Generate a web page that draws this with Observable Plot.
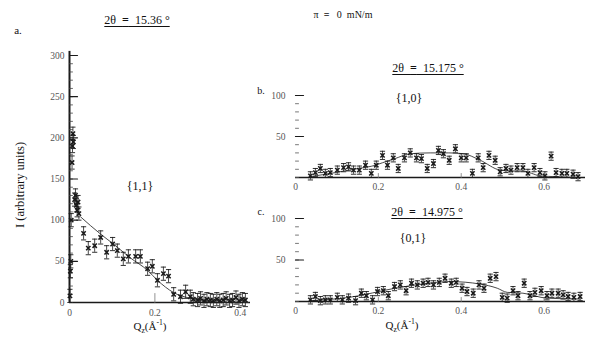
<!DOCTYPE html>
<html><head><meta charset="utf-8">
<script src="https://cdn.jsdelivr.net/npm/d3@7"></script>
<script src="https://cdn.jsdelivr.net/npm/@observablehq/plot@0.6"></script>
<style>
body{margin:0;background:#fff;}
#wrap{position:relative;width:589px;height:341px;overflow:hidden;background:#fff;font-family:"Liberation Serif","DejaVu Serif",serif;color:#111;}
#wrap svg{position:absolute;}
.t{position:absolute;white-space:nowrap;line-height:1;font-family:"Liberation Serif","DejaVu Serif",serif;}
.c{transform:translate(-50%,-50%);}
.u{text-decoration:underline;text-decoration-thickness:1.3px;text-underline-offset:2px;}
sub,sup{font-size:70%;}
</style></head><body><div id="wrap"></div>
<script>
// ---- Panel a : 2θ = 15.36°, {1,1}
const aQ = [0.001,0.002,0.003,0.004,0.006,0.007,0.008,0.009,0.012,0.014,0.016,0.018,0.020,0.022,
  0.033,0.044,0.059,0.073,0.087,0.101,0.112,0.126,0.138,0.155,0.166,0.183,0.194,0.206,0.220,0.232,
  0.244,0.260,0.272,0.283,0.290,0.300,0.307,0.315,0.322,0.330,0.337,0.345,0.352,0.360,0.367,0.375,
  0.382,0.390,0.397,0.405,0.412];
const aI = [8,38,50,100,170,190,205,195,125,130,118,112,122,108,
  84,66,69,79,61,71,63,53,56,56,56,41,44,27,35,32,
  10,7,13,7,4,3,5,2,4,3,2,4,2,3,5,2,
  3,6,2,4,3];
const aErr = 8;
const aFitQ = [0.026,0.073,0.103,0.143,0.183,0.206,0.244,0.283,0.323,0.360,0.420];
const aFitI = [104,83,71,54,39,27,12,5,1,0,0];

// ---- Panel b : 2θ = 15.175°, {1,0}
const bQ = [0.036,0.048,0.060,0.072,0.084,0.101,0.116,0.128,0.140,0.154,0.169,0.183,0.195,0.210,0.222,0.236,
  0.248,0.263,0.277,0.292,0.304,0.318,0.333,0.345,0.357,0.371,0.386,0.400,0.412,0.427,0.441,0.453,
  0.467,0.482,0.494,0.508,0.520,0.535,0.549,0.561,0.576,0.590,0.602,0.617,0.629,0.643,0.655,0.670,0.682];
const bI = [2,6,11,5,6,9,12,13,9,9,15,5,15,27,15,24,
  11,24,30,24,23,11,17,33,29,21,35,24,24,5,24,12,
  27,21,7,11,9,12,12,5,12,6,2,26,6,5,5,4,1];
const bErr = 5;
const bFitQ = [0.036,0.096,0.152,0.193,0.210,0.240,0.277,0.325,0.370,0.405,0.446,0.494,0.520,0.549,0.570,0.590,0.630,0.680];
const bFitI = [1,6,11,15,18,23,29,30,30,29,21,9,8,8,5,2,1,0];

// ---- Panel c : 2θ = 14.975°, {0,1}
const cQ = [0.036,0.048,0.060,0.072,0.084,0.101,0.113,0.128,0.145,0.159,0.171,0.186,0.198,0.212,0.224,0.239,
  0.253,0.267,0.280,0.294,0.308,0.320,0.333,0.347,0.361,0.376,0.388,0.402,0.414,0.429,0.443,0.455,
  0.470,0.484,0.499,0.511,0.525,0.537,0.552,0.566,0.578,0.593,0.607,0.619,0.634,0.646,0.658,0.672,0.687];
const cI = [2,6,1,2,2,5,2,4,1,10,7,2,12,13,7,18,
  20,13,22,20,22,23,20,23,28,22,23,16,12,10,20,16,
  28,30,5,4,13,7,22,7,11,13,7,10,10,8,6,5,6];
const cErr = 5;
const cFitQ = [0.036,0.130,0.241,0.320,0.373,0.446,0.487,0.511,0.549,0.607,0.687];
const cFitI = [1,5,16,22,24,21,16,11,10,4,3];

// ---- ticks
const aYLabels = [0,50,100,150,200,250,300];
const aYMinor = d3.range(0,301,10);
const aXLabels = [0,0.2,0.4];
const bcYLabels = [50,100];
const bcYMinor = d3.range(0,101,10);
const bcXLabels = [0,0.2,0.4,0.6];

const zip = (q,v)=>q.map((x,i)=>({q:x,v:v[i]}));
const lineShape = {draw(ctx,l){ctx.moveTo(0,0);ctx.lineTo(0,-l);}};
const capSym = {draw(ctx,size){const r=Math.sqrt(size/Math.PI);ctx.moveTo(-r,0);ctx.lineTo(r,0);}};
const INK = "#1a1a1a", GRAY="#555";
const fmt = d=>String(d);

function dataMarks(pts, fit, err){
  return [
    Plot.line(fit,{x:"q",y:"v",stroke:"#333",strokeWidth:0.9,curve:"monotone-x"}),
    Plot.ruleX(pts,{x:"q",y1:d=>d.v-err,y2:d=>d.v+err,stroke:INK,strokeWidth:0.8}),
    Plot.dot(pts,{x:"q",y:d=>d.v+err,symbol:capSym,r:2.6,stroke:INK,strokeWidth:0.9}),
    Plot.dot(pts,{x:"q",y:d=>d.v-err,symbol:capSym,r:2.6,stroke:INK,strokeWidth:0.9}),
    Plot.dot(pts,{x:"q",y:"v",symbol:"times",r:2.1,stroke:INK,strokeWidth:1.5})
  ];
}

const style = {fontFamily:"'Liberation Serif', 'DejaVu Serif', serif",fontSize:"9px",background:"transparent",overflow:"visible"};

const plotA = Plot.plot({
  width:255,height:285,marginLeft:69,marginRight:5,marginTop:15,marginBottom:23,
  x:{domain:[0,0.424]},y:{domain:[0,300]},style,
  marks:[
    Plot.axisY({ticks:aYLabels,tickFormat:fmt,tickSize:0,tickPadding:5,fontSize:9.5,fill:GRAY,label:null}),
    Plot.axisX({ticks:aXLabels,tickFormat:fmt,tickSize:0,tickPadding:7,fontSize:9.5,fill:GRAY,label:null}),
    Plot.ruleX([0],{y1:0,y2:305,stroke:INK,strokeWidth:2}),
    Plot.ruleY([0],{stroke:INK,strokeWidth:1.3}),
    Plot.vector(aYMinor,{x:0,y:d=>d,length:3,rotate:90,anchor:"start",shape:lineShape,stroke:"#444",strokeWidth:0.8}),
    Plot.vector(aYLabels.slice(1),{x:0,y:d=>d,length:8,rotate:90,anchor:"start",shape:lineShape,stroke:INK,strokeWidth:1.2}),
    Plot.vector(aXLabels.slice(1),{x:d=>d,y:0,length:9,rotate:0,anchor:"start",shape:lineShape,stroke:"#777",strokeWidth:0.8}),
    ...dataMarks(zip(aQ,aI),zip(aFitQ,aFitI),aErr)
  ]
});

function bcPlot(Q,I,FQ,FI,err,h,mt,mb){
  return Plot.plot({
    width:339,height:h,marginLeft:45,marginRight:4,marginTop:mt,marginBottom:mb,
    x:{domain:[0,0.7]},y:{domain:[0,100]},style,
    marks:[
      Plot.axisY({ticks:bcYLabels,tickFormat:fmt,tickSize:0,tickPadding:10,fontSize:9.5,fill:GRAY,label:null}),
      Plot.axisX({ticks:bcXLabels,tickFormat:fmt,tickSize:0,tickPadding:6,fontSize:9.5,fill:GRAY,label:null}),
      Plot.ruleY([0],{stroke:INK,strokeWidth:1.4}),
      Plot.vector(bcYMinor,{x:0,y:d=>d,length:3,rotate:90,anchor:"start",shape:lineShape,stroke:"#555",strokeWidth:0.8}),
      Plot.vector(bcYLabels,{x:0,y:d=>d,length:8,rotate:90,anchor:"start",shape:lineShape,stroke:INK,strokeWidth:1.2}),
      Plot.vector(bcXLabels.slice(1),{x:d=>d,y:0,length:4,rotate:0,anchor:"start",shape:lineShape,stroke:"#777",strokeWidth:0.8}),
      ...dataMarks(zip(Q,I),zip(FQ,FI),err)
    ]
  });
}
const plotB = bcPlot(bQ,bI,bFitQ,bFitI,bErr,115,15,18);
const plotC = bcPlot(cQ,cI,cFitQ,cFitI,cErr,120,13,24);

const wrap = document.getElementById("wrap");
function place(svg,left,top){svg.style.left=left+"px";svg.style.top=top+"px";wrap.appendChild(svg);}
place(plotA,0,40);
place(plotB,250,80);
place(plotC,250,205);

function txt(html,x,y,size,cls){
  const d=document.createElement("div");
  d.className="t "+(cls||"");
  d.innerHTML=html;d.style.left=x+"px";d.style.top=y+"px";d.style.fontSize=size+"px";
  wrap.appendChild(d);return d;
}
txt("π &nbsp;<b>=</b>&nbsp;&nbsp; 0 &nbsp;mN/m",343,15,10,"c");
txt("a.",18,30,11,"c");
txt("b.",261,91,10,"c");
txt("c.",261,212,10,"c");
txt("2θ&nbsp; <b>=</b> &nbsp;15.36 °",137,20,12,"c u");
txt("2θ&nbsp; <b>=</b> &nbsp;15.175 °",428,68,12,"c u");
txt("2θ&nbsp; <b>=</b> &nbsp;14.975 °",427,212,12,"c u");
txt("{1,1}",140,186,12,"c");
txt("{1,0}",409,98,12,"c");
txt("{0,1}",413,238,12,"c");
txt("Q<sub>z</sub>(Å<sup>-1</sup>)",150,327,11,"c");
txt("Q<sub>z</sub>(Å<sup>-1</sup>)",402,326,11,"c");
const yl = txt("I (arbitrary units)",20,185,12.5,"");
yl.style.transform="translate(-50%,-50%) rotate(-90deg)";
</script></body></html>
